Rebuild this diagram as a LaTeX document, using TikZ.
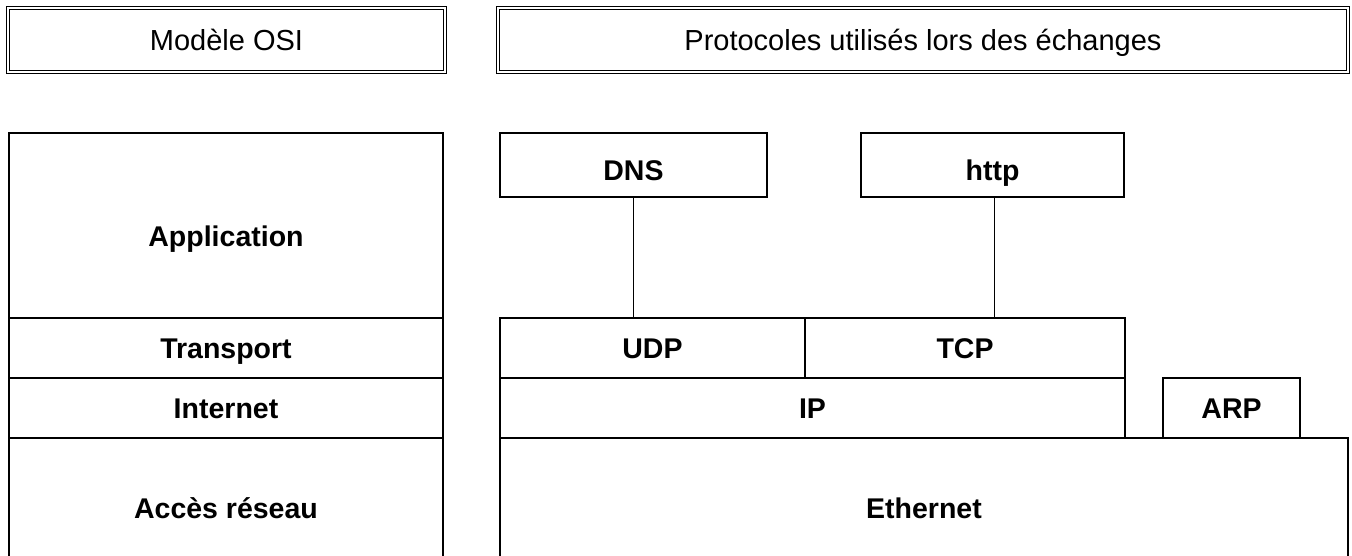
\documentclass[tikz,border=0pt]{standalone}
\usepackage{fontspec}
\setmainfont{Liberation Sans}
\tikzset{
  x=1pt, y=-1pt,
  layer/.style={draw, line width=1.8pt},
  header/.style={draw, double, line width=1.1pt, double distance=1.6pt},
  txt/.style={text height=20.5pt, text depth=0pt, inner sep=0pt},
  lbl/.style={txt, font=\fontsize{28.5}{34}\selectfont\bfseries},
  hlbl/.style={txt, font=\fontsize{29}{34}\selectfont},
  link/.style={draw, line width=1pt},
}
\begin{document}
\begin{tikzpicture}
\useasboundingbox (0,0) rectangle (1352,555);
\clip (0,0) rectangle (1352,555);

% headers
\draw[header] (8,8) rectangle (445,72);
\node[hlbl] (hosi) at (226.5,40) {Modèle OSI};
\draw[header] (498,8) rectangle (1348,72);
\node[hlbl] (hproto) at (923,40) {Protocoles utilisés lors des échanges};

% OSI layers
\draw[layer] (9,133) rectangle (443,318);
\node[lbl] (app) at (226,236) {Application};
\draw[layer] (9,318) rectangle (443,378);
\node[lbl] (trans) at (226,348) {Transport};
\draw[layer] (9,378) rectangle (443,438);
\node[lbl] (inet) at (226,408) {Internet};
\draw[layer] (9,438) rectangle (443,570);
\node[lbl] (acces) at (226,508) {Accès réseau};

% protocols
\draw[layer] (500,133) rectangle (767,197);
\node[lbl] (dns) at (633.5,170) {DNS};
\draw[layer] (861,133) rectangle (1124,197);
\node[lbl] (http) at (992.5,170) {http};
\draw[layer] (500,318) rectangle (805,378);
\node[lbl] (udp) at (652.5,348) {UDP};
\draw[layer] (805,318) rectangle (1125,378);
\node[lbl] (tcp) at (965,348) {TCP};
\draw[layer] (500,378) rectangle (1125,438);
\node[lbl] (ip) at (812.5,408) {IP};
\draw[layer] (1163,378) rectangle (1300,438);
\node[lbl] (arp) at (1231.5,408) {ARP};
\draw[layer] (500,438) rectangle (1348,570);
\node[lbl] (eth) at (924,508) {Ethernet};

% links between layers
\coordinate (dnsb) at (633.5,197);
\coordinate (udpt) at (633.5,318);
\coordinate (httpb) at (994,197);
\coordinate (tcpt) at (994,318);
\draw[link] (dnsb) -- (udpt);
\draw[link] (httpb) -- (tcpt);
\end{tikzpicture}
\end{document}
